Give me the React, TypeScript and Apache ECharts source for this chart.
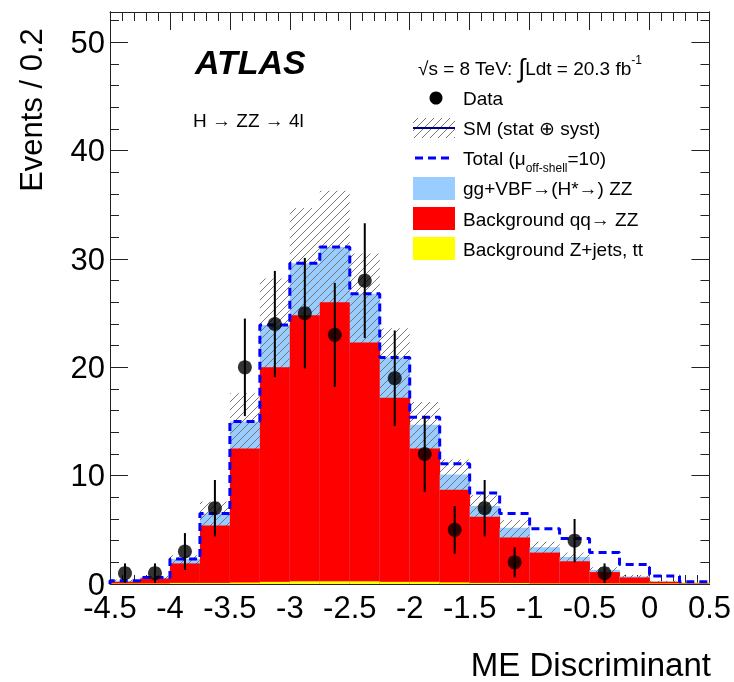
import React, { useEffect, useRef } from 'react';
import * as echarts from 'echarts';

// ---- data ----
const binEdges = [-4.5, -4.25, -4, -3.75, -3.5, -3.25, -3, -2.75, -2.5, -2.25, -2, -1.75, -1.5, -1.25, -1, -0.75, -0.5, -0.25, 0, 0.25, 0.5];
const zjets = [0.05, 0.05, 0.1, 0.1, 0.15, 0.2, 0.25, 0.25, 0.25, 0.2, 0.2, 0.15, 0.1, 0.1, 0.05, 0.05, 0.05, 0.05, 0.05, 0.05];
const qqZZ = [0.15, 0.45, 1.8, 5.3, 12.35, 19.8, 24.55, 25.75, 22.05, 17.0, 12.3, 8.55, 6.1, 4.2, 2.85, 2.05, 1.05, 0.55, 0.15, 0.05];
const ggVBF = [0.1, 0.1, 0.4, 1.1, 2.5, 3.9, 4.8, 5.1, 4.5, 3.7, 2.2, 1.4, 1.0, 0.9, 0.5, 0.4, 0.2, 0.1, 0.05, 0.02];
const smErr = [0.1, 0.15, 0.35, 1.1, 2.6, 4.3, 5.1, 5.2, 3.7, 2.7, 2.1, 1.4, 1.0, 0.7, 0.5, 0.4, 0.25, 0.15, 0.05, 0.03];
const totalMu10 = [0.3, 0.6, 2.3, 6.5, 15.0, 23.9, 29.6, 31.1, 26.8, 20.9, 15.4, 11.1, 8.4, 6.5, 5.1, 4.2, 2.9, 1.8, 0.75, 0.2];
const dataCounts = [1, 1, 3, 7, 20, 24, 25, 23, 28, 19, 12, 5, 7, 2, 0, 4, 1, 0, 0, 0];
const dataErr = [0.9, 0.9, 1.7, 2.6, 4.5, 4.9, 5.1, 4.8, 5.3, 4.4, 3.5, 2.2, 2.6, 1.4, 0, 2.0, 0.9, 0, 0, 0];

const FONT = '"Liberation Sans", Arial, Helvetica, sans-serif';
const AXIS_COLOR = '#222';
const HATCH_COLOR = '#777';
const HATCH_STEP = 8;

function hatchSegments(x0: number, y0: number, x1: number, y1: number, s: number) {
  const segs: number[][] = [];
  if (x1 <= x0 || y1 <= y0) return segs;
  const cStart = Math.ceil((x0 + y0) / s) * s;
  for (let c = cStart; c <= x1 + y1; c += s) {
    const xs = Math.max(x0, c - y1);
    const xe = Math.min(x1, c - y0);
    if (xe > xs) segs.push([xs, c - xs, xe, c - xe]);
  }
  return segs;
}

export default function App() {
  const ref = useRef<HTMLDivElement>(null);
  useEffect(() => {
    if (!ref.current) return;
    const chart = echarts.init(ref.current, null, { renderer: 'svg' });

    const histRows = binEdges.slice(0, -1).map((lo, i) => {
      const yT = zjets[i];
      const rT = yT + qqZZ[i];
      const bT = rT + ggVBF[i];
      return [lo, binEdges[i + 1], yT, rT, bT, bT + smErr[i]];
    });
    const last = totalMu10.length - 1;
    const stepData: number[][] = [[binEdges[0], 0]];
    totalMu10.forEach((v, i) => stepData.push([binEdges[i], v]));
    stepData.push([binEdges[last + 1], totalMu10[last]]);

    const centers = binEdges.slice(0, -1).map((lo, i) => (lo + binEdges[i + 1]) / 2);
    const pts = centers.map((c, i) => [c, dataCounts[i], dataErr[i]]).filter((r) => r[1] > 0);

    const tickCommon = (len: number) => ({ show: true, inside: true, length: len, lineStyle: { color: AXIS_COLOR, width: 1 } });

    const xAxisBase = {
      type: 'value', min: -4.5, max: 0.5, interval: 0.5,
      axisLine: { show: true, onZero: false, lineStyle: { color: AXIS_COLOR, width: 1 } },
      axisTick: tickCommon(18),
      minorTick: { show: true, splitNumber: 5, length: 9, lineStyle: { color: AXIS_COLOR, width: 1 } },
      splitLine: { show: false }, minorSplitLine: { show: false },
    };
    const yBase = (pos: string, interval: number, len: number, labels: boolean) => ({
      type: 'value', min: 0, max: 52.8, interval, position: pos,
      axisLine: { show: true, onZero: false, lineStyle: { color: AXIS_COLOR, width: 1 } },
      axisTick: tickCommon(len),
      splitLine: { show: false },
      axisLabel: labels
        ? { show: true, fontSize: 31, fontFamily: FONT, color: '#000', margin: 5, showMaxLabel: false,
            formatter: (v: number) => (Math.abs(v % 10) < 1e-6 ? String(v) : '') }
        : { show: false },
    });

    const legendX = 463;
    const hatchLegend = hatchSegments(413, 118, 455, 138, HATCH_STEP).map(([a, b, c, d]) => ({
      type: 'line', shape: { x1: a, y1: b, x2: c, y2: d }, style: { stroke: HATCH_COLOR, lineWidth: 1 },
    }));
    const txt = (x: number, y: number, text: string, size = 19) => ({
      type: 'text', x, y,
      style: { text, fontSize: size, fontFamily: FONT, fill: '#000', align: 'left', verticalAlign: 'middle' },
    });

    const option = {
      animation: false,
      grid: { left: 110, right: 22, top: 12, bottom: 98, containLabel: false },
      xAxis: [
        { ...xAxisBase, position: 'bottom',
          axisLabel: { show: true, fontSize: 31, fontFamily: FONT, color: '#000', margin: 8,
            formatter: (v: number) => String(v) } },
        { ...xAxisBase, position: 'top', axisLabel: { show: false } },
      ],
      yAxis: [
        yBase('left', 10, 18, true),
        yBase('left', 2, 9, false),
        yBase('right', 10, 18, false),
        yBase('right', 2, 9, false),
      ],
      series: [
        {
          type: 'custom', xAxisIndex: 0, yAxisIndex: 0, data: histRows, z: 2,
          renderItem: (params: any, api: any) => {
            const x0 = api.value(0), x1 = api.value(1);
            const base = api.coord([x0, 0]);
            const right = api.coord([x1, 0])[0];
            const left = base[0], bottom = base[1];
            const w = right - left + 0.4;
            const py = (v: number) => api.coord([x0, v])[1];
            const yT = py(api.value(2)), rT = py(api.value(3)), bT = py(api.value(4)), hT = py(api.value(5));
            const children: any[] = [];
            children.push({ type: 'rect', shape: { x: left, y: bT, width: w, height: bottom - bT }, style: { fill: '#99ccff' } });
            hatchSegments(left, hT, right, Math.min(bottom, rT + 2), HATCH_STEP).forEach(([a, b, c, d]) =>
              children.push({ type: 'line', shape: { x1: a, y1: b, x2: c, y2: d }, style: { stroke: HATCH_COLOR, lineWidth: 1 } }));
            children.push({ type: 'rect', shape: { x: left, y: rT, width: w, height: bottom - rT }, style: { fill: '#ff0000' } });
            children.push({ type: 'rect', shape: { x: left, y: yT, width: w, height: bottom - yT }, style: { fill: '#ffff00' } });
            return { type: 'group', children };
          },
        },
        {
          type: 'line', xAxisIndex: 0, yAxisIndex: 0, data: stepData, step: 'end', z: 3,
          showSymbol: false, symbol: 'none',
          lineStyle: { color: '#0000ff', width: 3, type: [8, 5] },
        },
        {
          type: 'custom', xAxisIndex: 0, yAxisIndex: 0, data: pts, z: 4,
          renderItem: (params: any, api: any) => {
            const xc = api.value(0), v = api.value(1), e = api.value(2);
            const p0 = api.coord([xc, v - e]);
            const p1 = api.coord([xc, v + e]);
            return { type: 'line', shape: { x1: p0[0], y1: p0[1], x2: p1[0], y2: p1[1] }, style: { stroke: '#000', lineWidth: 2 } };
          },
        },
        {
          type: 'scatter', xAxisIndex: 0, yAxisIndex: 0, z: 5,
          data: pts.map((r) => [r[0], r[1]]), symbol: 'circle', symbolSize: 14,
          itemStyle: { color: '#000' },
        },
      ],
      graphic: {
        elements: [
          { type: 'text', x: 195, y: 62,
            style: { text: 'ATLAS', fontSize: 34, fontWeight: 'bold', fontStyle: 'italic', fontFamily: FONT, fill: '#000', align: 'left', verticalAlign: 'middle' } },
          txt(193, 120, 'H \u2192 ZZ \u2192 4l'),
          { type: 'text', x: 418, y: 68,
            style: {
              text: '{a|\u221As = 8 TeV: }{i|\u222B}{a|Ldt = 20.3 fb}{p|-1}',
              align: 'left', verticalAlign: 'middle',
              rich: {
                a: { fontSize: 19, fontFamily: FONT, fill: '#000', lineHeight: 28 },
                i: { fontSize: 26, fontFamily: FONT, fill: '#000', lineHeight: 28 },
                p: { fontSize: 12, fontFamily: FONT, fill: '#000', verticalAlign: 'top', lineHeight: 14 },
              },
            } },
          { type: 'circle', shape: { cx: 436, cy: 98, r: 6.5 }, style: { fill: '#000' } },
          txt(legendX, 98, 'Data'),
          ...hatchLegend,
          { type: 'line', shape: { x1: 413, y1: 128, x2: 455, y2: 128 }, style: { stroke: '#000080', lineWidth: 2 } },
          txt(legendX, 128, 'SM (stat \u2295 syst)'),
          { type: 'line', shape: { x1: 415, y1: 158, x2: 450, y2: 158 }, style: { stroke: '#0000ff', lineWidth: 3, lineDash: [8, 5] } },
          { type: 'text', x: legendX, y: 158,
            style: {
              text: '{a|Total (\u03BC}{s|off-shell}{a|=10)}',
              align: 'left', verticalAlign: 'middle',
              rich: {
                a: { fontSize: 19, fontFamily: FONT, fill: '#000', lineHeight: 32 },
                s: { fontSize: 12, fontFamily: FONT, fill: '#000', verticalAlign: 'bottom', lineHeight: 14 },
              },
            } },
          { type: 'rect', shape: { x: 413, y: 177, width: 42, height: 23 }, style: { fill: '#99ccff' } },
          txt(legendX, 188, 'gg+VBF\u2192(H*\u2192) ZZ'),
          { type: 'rect', shape: { x: 413, y: 207, width: 42, height: 23 }, style: { fill: '#ff0000' } },
          txt(legendX, 219, 'Background qq\u2192 ZZ'),
          { type: 'rect', shape: { x: 413, y: 237, width: 42, height: 23 }, style: { fill: '#ffff00' } },
          txt(legendX, 249, 'Background Z+jets, tt'),
          { type: 'text', x: 31, y: 110, rotation: Math.PI / 2,
            style: { text: 'Events / 0.2', fontSize: 31, fontFamily: FONT, fill: '#000', align: 'center', verticalAlign: 'middle' } },
          { type: 'text', x: 711, y: 664,
            style: { text: 'ME Discriminant', fontSize: 33, fontFamily: FONT, fill: '#000', align: 'right', verticalAlign: 'middle' } },
        ],
      },
    };

    chart.setOption(option as any);
    return () => chart.dispose();
  }, []);
  return <div ref={ref} style={{ position: 'fixed', left: 0, top: 0, width: 734, height: 682 }} />;
}
